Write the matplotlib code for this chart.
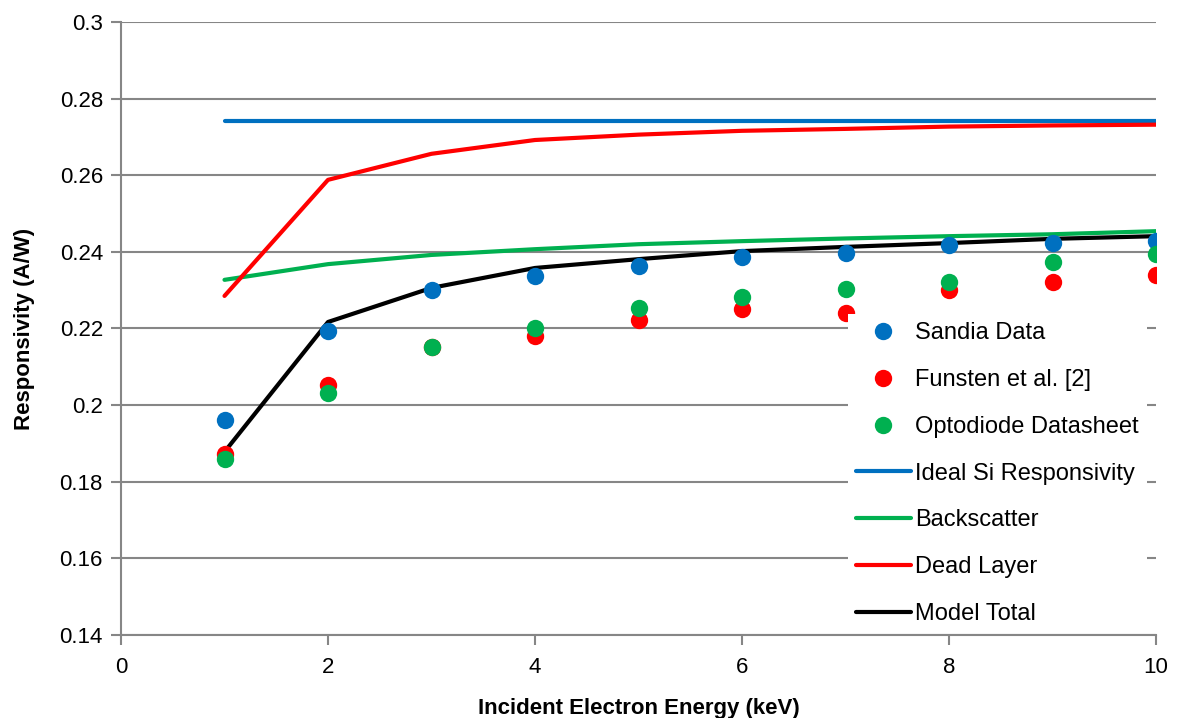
import matplotlib.pyplot as plt
from matplotlib.ticker import FuncFormatter, MultipleLocator

plt.rcParams['font.family'] = ['Liberation Sans', 'DejaVu Sans']

energy = [1, 2, 3, 4, 5, 6, 7, 8, 9, 10]

sandia = [0.196, 0.2193, 0.230, 0.2337, 0.2363, 0.2387, 0.2397, 0.2418, 0.2423, 0.2428]
funsten = [0.1872, 0.2052, 0.2151, 0.218, 0.2222, 0.2251, 0.224, 0.230, 0.2321, 0.234]
optodiode = [0.186, 0.2032, 0.2152, 0.2201, 0.2253, 0.2282, 0.2303, 0.2321, 0.2374, 0.2394]

ideal = [0.2742] * 10
backscatter = [0.2327, 0.2368, 0.2392, 0.2407, 0.2420, 0.2428, 0.2435, 0.2441, 0.2446, 0.2454]
dead_layer = [0.2285, 0.2588, 0.2656, 0.2692, 0.2706, 0.2716, 0.2721, 0.2727, 0.2730, 0.2732]
model_total = [0.1878, 0.2217, 0.2306, 0.2358, 0.2381, 0.2402, 0.2413, 0.2423, 0.2434, 0.2441]

blue = '#0070C0'
red = '#FF0000'
green = '#00B050'
grid_c = '#868686'
fs = 16

fig = plt.figure(figsize=(11.8, 7.18), dpi=100)
ax = fig.add_axes([121 / 1180, 83 / 718, (1156 - 121) / 1180, (635 - 22) / 718])

l_ideal, = ax.plot(energy, ideal, color=blue, lw=3, solid_capstyle='round', zorder=3)
l_back, = ax.plot(energy, backscatter, color=green, lw=3, solid_capstyle='round', zorder=3)
l_dead, = ax.plot(energy, dead_layer, color=red, lw=3, solid_capstyle='round', zorder=3)
l_model, = ax.plot(energy, model_total, color='black', lw=3, solid_capstyle='round', zorder=3)

p_sandia, = ax.plot(energy, sandia, 'o', color=blue, ms=12.5, mew=0, zorder=4)
p_funsten, = ax.plot(energy, funsten, 'o', color=red, ms=12.5, mew=0, zorder=4)
p_opto, = ax.plot(energy, optodiode, 'o', color=green, ms=12.5, mew=0, zorder=4)

ax.set_xlim(0, 10)
ax.set_ylim(0.14, 0.3)
ax.xaxis.set_major_locator(MultipleLocator(2))
ax.yaxis.set_major_locator(MultipleLocator(0.02))
ax.yaxis.set_major_formatter(FuncFormatter(lambda v, p: '%g' % round(v, 3)))

ax.grid(axis='y', color=grid_c, lw=1.5)
ax.set_axisbelow(True)
for s in ['top', 'right']:
    ax.spines[s].set_visible(False)
for s in ['left', 'bottom']:
    ax.spines[s].set_color(grid_c)
    ax.spines[s].set_linewidth(1.5)
ax.tick_params(axis='both', colors=grid_c, width=1.5, length=7, labelsize=fs, labelcolor='black')
ax.tick_params(axis='x', pad=9)
ax.tick_params(axis='y', pad=6)

ax.set_xlabel('Incident Electron Energy (keV)', fontsize=fs, fontweight='bold', labelpad=14)
ax.set_ylabel('Responsivity (A/W)', fontsize=fs, fontweight='bold', labelpad=18)

leg = fig.legend([p_sandia, p_funsten, p_opto, l_ideal, l_back, l_dead, l_model],
                 ['Sandia Data', 'Funsten et al. [2]', 'Optodiode Datasheet',
                  'Ideal Si Responsivity', 'Backscatter', 'Dead Layer', 'Model Total'],
                 loc='upper left', bbox_to_anchor=(848 / 1180, 1 - 314 / 718),
                 fontsize=fs + 1, frameon=True, fancybox=False, borderpad=0.35,
                 labelspacing=1.05, handlelength=2.3, handletextpad=0.2,
                 borderaxespad=0)
leg.get_frame().set_edgecolor('none')
leg.get_frame().set_facecolor('white')
leg.get_frame().set_alpha(1)

fig.savefig('out.png', dpi=100)
